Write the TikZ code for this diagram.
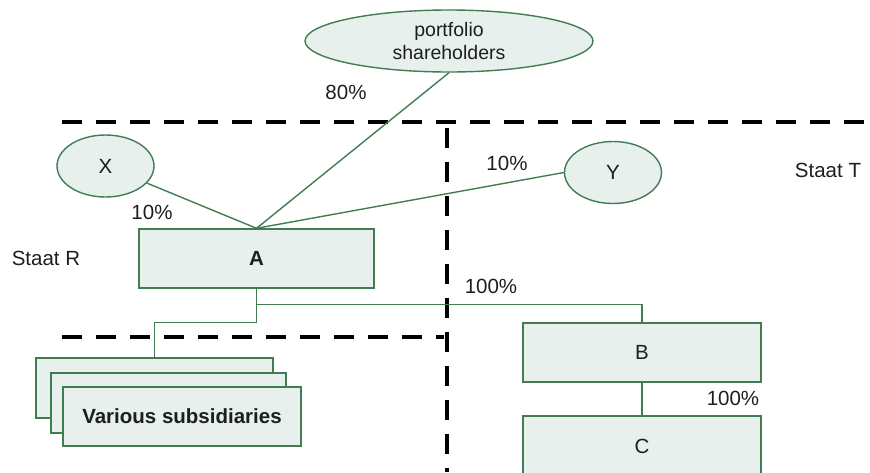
\documentclass[tikz,border=0pt]{standalone}
\usepackage{fontspec}
\setmainfont{Liberation Sans}
\usetikzlibrary{shapes.geometric}
\definecolor{edgegreen}{RGB}{66,125,82}
\definecolor{boxfill}{RGB}{231,240,237}
\definecolor{inkgray}{RGB}{30,30,30}
\begin{document}
\begin{tikzpicture}[x=1pt,y=-1pt,
  every node/.style={text=inkgray, font=\fontsize{20.5}{24}\selectfont},
  entity/.style={draw=edgegreen, fill=boxfill, line width=1.4pt, rectangle, inner sep=0pt},
  party/.style={draw=edgegreen, fill=boxfill, line width=1.4pt, ellipse, inner sep=0pt},
  link/.style={draw=edgegreen, line width=1.4pt},
  border/.style={draw=black, line width=4pt, dash pattern=on 20pt off 14pt},
  share/.style={inner sep=0pt}]
\useasboundingbox (0,0) rectangle (870,472);

% jurisdiction borders
\coordinate (topL) at (62,122);
\coordinate (topR) at (875,122);
\coordinate (vTop) at (447,128);
\coordinate (vBot) at (447,472);
\coordinate (lowL) at (62,337);
\coordinate (lowR) at (444,337);
\draw[border] (topL) -- (topR);
\draw[border] (vTop) -- (vBot);
\draw[border] (lowL) -- (lowR);

% shareholders
\node[party, minimum width=288pt, minimum height=62pt, align=center,
      font=\fontsize{19.5}{23}\selectfont] (P) at (449,41) {portfolio\\shareholders};
\node[party, minimum width=97pt, minimum height=62pt] (X) at (105.5,166) {X};
\node[party, minimum width=97pt, minimum height=62pt] (Y) at (613,172.5) {Y};

% companies
\node[entity, minimum width=235pt, minimum height=59pt, font=\bfseries\fontsize{20.5}{24}\selectfont] (A) at (256.5,258.5) {A};
\node[entity, minimum width=238pt, minimum height=59pt] (B) at (642,352.5) {B};
\node[entity, minimum width=238pt, minimum height=60pt] (C) at (642,446) {C};

% stack of subsidiaries
\node[entity, minimum width=237pt, minimum height=60pt] (S1) at (154.5,388) {};
\node[entity, minimum width=235pt, minimum height=60pt] (S2) at (168.5,403) {};
\node[entity, minimum width=238pt, minimum height=59pt, font=\bfseries\fontsize{20.5}{24}\selectfont] (S3) at (182,416.5) {Various subsidiaries};

% ownership links
\draw[link] (P.south) -- (A.north);
\draw[link] (X) -- (A.north);
\draw[link] (Y.west) -- (A.north);
\draw[link] (A.south) -- ++(0,16) -| (B.north);
\draw[link] (A.south) -- ++(0,34) -| (S1.north);
\draw[link] (B.south) -- (C.north);

% percentages
\node[share] (p80) at (346,92) {80\%};
\node[share] (pX) at (152,212) {10\%};
\node[share] (pY) at (507,163) {10\%};
\node[share] (pB) at (491,286) {100\%};
\node[share] (pC) at (733,398) {100\%};

% state labels
\node[share] (stR) at (46,258) {Staat R};
\node[share] (stT) at (828,170) {Staat T};
\end{tikzpicture}
\end{document}
